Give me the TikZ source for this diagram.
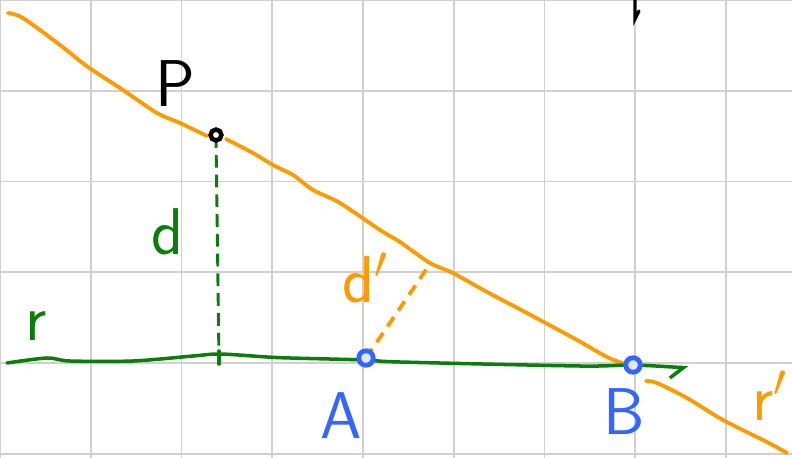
\documentclass[tikz,border=0pt]{standalone}
\usepackage{xcolor}
\usepackage{tikz}
\usetikzlibrary{arrows.meta,positioning}
\definecolor{gridgray}{HTML}{D0D0D0}
\definecolor{penorange}{HTML}{FF9A00}
\definecolor{pengreen}{HTML}{0B7D0B}
\definecolor{penblue}{HTML}{3366FF}
\tikzset{
  gridline/.style={draw=gridgray, line width=0.6pt},
  lineR/.style={draw=pengreen, line width=1.1pt, line cap=round},
  lineRp/.style={draw=penorange, line width=1.2pt, line cap=round},
  distd/.style={draw=pengreen, line width=0.9pt, dash pattern=on 4pt off 2.2pt},
  distdp/.style={draw=penorange, line width=1.2pt, dash pattern=on 3.5pt off 2.5pt},
  pen/.style={draw=black, line width=1pt, line cap=round},
  ptblack/.style={circle, draw=black, fill=white, line width=1.4pt, minimum size=0.12cm, inner sep=0pt},
  ptblue/.style={circle, draw=penblue, fill=penblue!15, line width=1.5pt, minimum size=0.16cm, inner sep=0pt},
  lbl/.style={font=\huge\sffamily, inner sep=0pt}
}
\begin{document}
\begin{tikzpicture}[x=0.011019cm, y=-0.011019cm]
  \useasboundingbox (0,0) rectangle (792,458);
  \fill[white] (0,0) rectangle (792,458);
  \foreach \i in {0,...,8} \draw[gridline] (\i*90.75,0) -- (\i*90.75,458);
  \foreach \j in {0,...,5} \draw[gridline] (0,\j*90.75) -- (792,\j*90.75);
  \coordinate (P) at (216,135);
  \coordinate (A) at (366,358);
  \coordinate (B) at (633,365);
  \coordinate (foot) at (219,364);
  \coordinate (dpend) at (430,264);
  \draw[lineRp] plot[smooth, tension=0.5] coordinates {(8,13) (23,18) (60,45) (88,67) (123,90) (157,113) (180,123) (207,136)};
  \draw[lineRp] plot[smooth, tension=0.5] coordinates {(226,139) (253,153) (273,165) (293,175) (313,190) (340,203) (380,230) (400,242) (430,263) (453,273) (487,292) (527,313) (577,340) (607,357) (625,364)};
  \draw[lineRp] plot[smooth, tension=0.5] coordinates {(646,381) (657,383) (687,398) (723,420) (767,442) (787,453)};
  \draw[lineR, -{Straight Barb[right, length=4pt, width=7pt]}] plot[smooth, tension=0.5] coordinates {(7,363) (47,358) (70,361) (133,361) (193,356) (220,354) (267,357) (290,358) (366,360) (400,362) (580,366) (633,365) (688,368)};
  \draw[distd] (P) -- (foot);
  \draw[lineR] (219,351) -- (foot);
  \draw[distdp] (A) -- (dpend);
  \draw[pen] (635,0) -- (635,19) -- (639,11);
  \node[ptblack] (Pdot) at (P) {};
  \node[ptblue] (Adot) at (A) {};
  \node[ptblue] (Bdot) at (B) {};
  \node[lbl] (Plbl) at (175,84) {P};
  \node[lbl, text=pengreen] (dlbl) at (168,232) {d};
  \node[lbl, text=penorange] (dplbl) at (366,278) {d$'$};
  \node[lbl, text=pengreen] (rlbl) at (36,326) {r};
  \node[lbl, text=penblue] (Albl) at (341,416) {A};
  \node[lbl, text=penblue] (Blbl) at (624,412) {B};
  \node[lbl, text=penorange] (rplbl) at (770,396) {r$'$};
\end{tikzpicture}
\end{document}
